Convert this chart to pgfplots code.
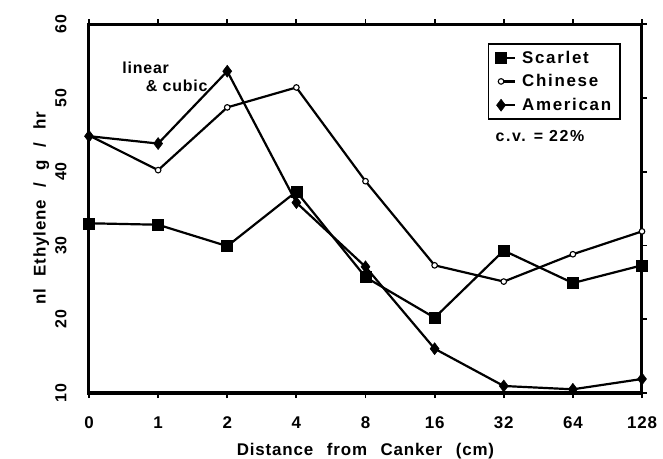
\documentclass[border=0pt]{standalone}
\usepackage{fontspec}
\setmainfont{Liberation Sans}
\usepackage{pgfplots}
\pgfplotsset{compat=1.18}
\newfontfamily\lsp{Liberation Sans}[LetterSpace=10]
\newfontfamily\lspx{Liberation Sans}[LetterSpace=5]
\begin{document}
\begin{tikzpicture}
\useasboundingbox (-89bp,-66bp) rectangle (574bp,393bp);
\begin{axis}[
  at={(0,0)}, anchor=south west,
  width=553bp, height=369bp, scale only axis,
  xmin=0, xmax=8, ymin=10, ymax=60,
  xtick={0,...,8},
  xticklabels={0,1,2,4,8,16,32,64,128},
  ytick={10,20,...,60},
  axis line style={line width=3bp},
  tick style={line width=1.8bp, black},
  major tick length=5bp,
  tick align=outside,
  xtick pos=both, xticklabel pos=bottom,
  ytick pos=right, yticklabel pos=left,
  /pgf/number format/assume math mode=true,
  xticklabel style={font=\fontsize{17}{17}\selectfont\bfseries\lspx, yshift=-15bp},
  yticklabel style={font=\fontsize{16}{16}\selectfont\bfseries\lspx, rotate=90, anchor=south, yshift=14bp},
  xlabel={Distance\hspace{8bp} from\hspace{8bp} Canker\hspace{8bp} (cm)},
  ylabel={nl\hspace{7bp} Ethylene\hspace{7bp} /\hspace{7bp} g\hspace{7bp} /\hspace{7bp} hr},
  xlabel style={font=\fontsize{17}{17}\selectfont\bfseries\lspx, yshift=-8bp},
  ylabel style={font=\fontsize{17}{17}\selectfont\bfseries\lspx, yshift=-1bp},
  legend style={at={(0.962,0.9485)}, anchor=north east, draw=black, line width=1.6bp,
     font=\fontsize{17}{17}\selectfont\bfseries\lsp, inner xsep=7bp, inner ysep=5bp,
     row sep=6bp, cells={anchor=west},
     /tikz/every odd column/.append style={column sep=4bp}},
  legend image code/.code={\draw[#1, mark repeat=2, mark phase=1] plot coordinates {(0bp,0bp) (14bp,0bp)};},
  every axis plot/.append style={line width=2.2bp, black},
]
\addplot[mark=square*, mark size=5.5bp, mark options={solid, fill=black, line width=0.5bp}]
  coordinates {(0,33.0) (1,32.8) (2,29.9) (3,37.3) (4,25.7) (5,20.2) (6,29.3) (7,24.9) (8,27.3)};
\addlegendentry{Scarlet}
\addplot[mark=*, mark size=2.8bp, mark options={solid, fill=white, line width=1.1bp}]
  coordinates {(0,44.9) (1,40.2) (2,48.7) (3,51.4) (4,38.7) (5,27.3) (6,25.1) (7,28.8) (8,31.9)};
\addlegendentry{Chinese}
\addplot[mark=diamond*, mark size=6bp, mark options={solid, fill=black, line width=0.5bp}]
  coordinates {(0,44.8) (1,43.8) (2,53.6) (3,35.8) (4,27.1) (5,16.0) (6,10.95) (7,10.5) (8,11.9)};
\addlegendentry{American}
\node[anchor=west, inner sep=0pt, font=\fontsize{16}{16}\selectfont\bfseries\lspx] at (axis cs:0.48,54.0) {linear};
\node[anchor=west, inner sep=0pt, font=\fontsize{16}{16}\selectfont\bfseries\lspx] at (axis cs:0.82,51.6) {\& cubic};
\node[anchor=west, inner sep=0pt, font=\fontsize{16}{16}\selectfont\bfseries\lsp] at (axis cs:5.88,44.8) {c.v. = 22\%};
\end{axis}
\end{tikzpicture}
\end{document}
